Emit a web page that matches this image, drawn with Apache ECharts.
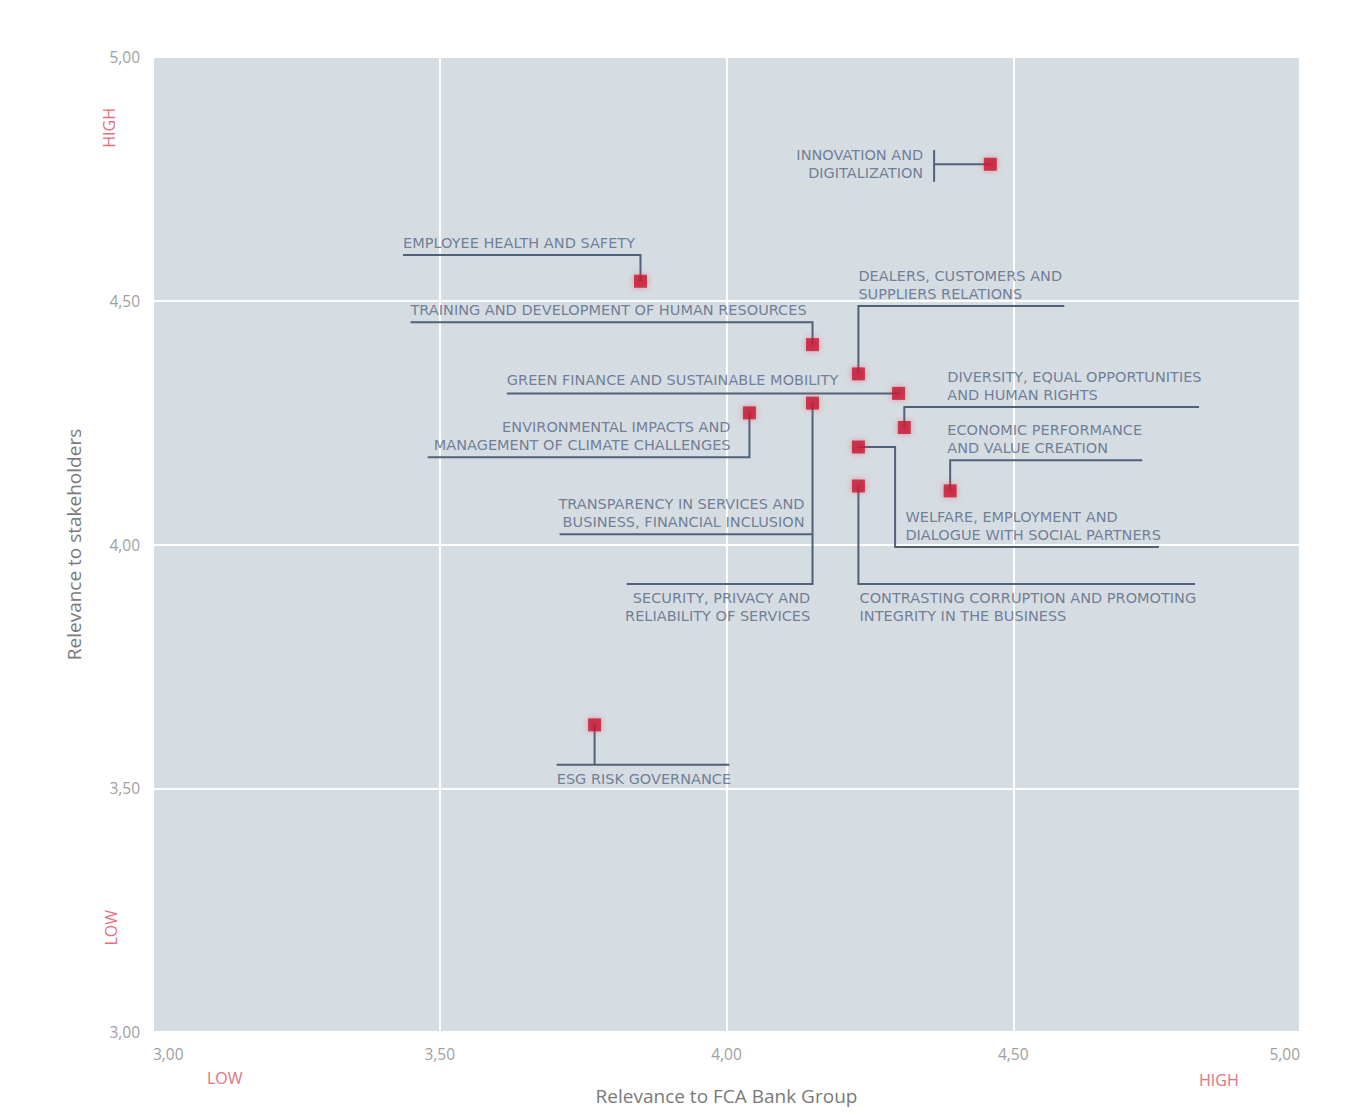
<!DOCTYPE html>
<html><head><meta charset="utf-8">
<script src="https://cdn.jsdelivr.net/npm/echarts@6/dist/echarts.min.js"></script>
<style>html,body{margin:0;background:#fff}#c{width:1355px;height:1117px}</style>
</head><body><div id="c"></div>
<script>
// ---- data ----
const topics = [
  'INNOVATION AND\nDIGITALIZATION',
  'EMPLOYEE HEALTH AND SAFETY',
  'TRAINING AND DEVELOPMENT OF HUMAN RESOURCES',
  'DEALERS, CUSTOMERS AND\nSUPPLIERS RELATIONS',
  'GREEN FINANCE AND SUSTAINABLE MOBILITY',
  'DIVERSITY, EQUAL OPPORTUNITIES\nAND HUMAN RIGHTS',
  'ENVIRONMENTAL IMPACTS AND\nMANAGEMENT OF CLIMATE CHALLENGES',
  'TRANSPARENCY IN SERVICES AND\nBUSINESS, FINANCIAL INCLUSION',
  'SECURITY, PRIVACY AND\nRELIABILITY OF SERVICES',
  'ECONOMIC PERFORMANCE\nAND VALUE CREATION',
  'WELFARE, EMPLOYMENT AND\nDIALOGUE WITH SOCIAL PARTNERS',
  'CONTRASTING CORRUPTION AND PROMOTING\nINTEGRITY IN THE BUSINESS',
  'ESG RISK GOVERNANCE'
];
const relevanceGroup =        [4.46, 3.85, 4.15, 4.23, 4.30, 4.31, 4.04, 4.15, 4.15, 4.39, 4.23, 4.23, 3.77];
const relevanceStakeholders = [4.78, 4.54, 4.41, 4.35, 4.31, 4.24, 4.27, 4.29, 4.29, 4.11, 4.20, 4.12, 3.63];
const xTickLabels = ['3,00', '3,50', '4,00', '4,50', '5,00'];
const yTickLabels = ['3,00', '3,50', '4,00', '4,50', '5,00'];
const xAxisTitle = 'Relevance to FCA Bank Group';
const yAxisTitle = 'Relevance to stakeholders';

// ---- annotation layout (leader waypoints & label anchors, data units) ----
const leaderPaths = [
  [[4.362, 4.78]],
  [[3.85, 4.594], [3.436, 4.594]],
  [[4.15, 4.456], [3.449, 4.456]],
  [[4.23, 4.489], [4.589, 4.489]],
  [[3.617, 4.31]],
  [[4.31, 4.282], [4.824, 4.282]],
  [[4.04, 4.179], [3.479, 4.179]],
  [[4.15, 3.919], [3.826, 3.919]],
  null,
  [[4.39, 4.173], [4.725, 4.173]],
  [[4.294, 4.20], [4.294, 3.995], [4.754, 3.995]],
  [[4.23, 3.919], [4.817, 3.919]],
  [[3.77, 3.548]]
];
const extraSegments = [
  [[4.362, 4.809], [4.362, 4.744]],
  [[3.709, 4.021], [4.15, 4.021]],
  [[3.704, 3.548], [4.005, 3.548]]
];
const labelAnchors = [
  [4.350, 4.78, 'right', 'middle', -4, 0],
  [3.436, 4.594, 'left', 'bottom', 0, -3],
  [3.449, 4.456, 'left', 'bottom', 0, -3],
  [4.23, 4.489, 'left', 'bottom', 0, -3],
  [3.617, 4.31, 'left', 'bottom', 0, -4],
  [4.385, 4.282, 'left', 'bottom', 0, -3],
  [4.007, 4.179, 'right', 'bottom', 0, -3],
  [4.136, 4.021, 'right', 'bottom', 0, -3],
  [4.146, 3.919, 'right', 'top', 0, 5],
  [4.385, 4.173, 'left', 'bottom', 0, -3],
  [4.312, 3.995, 'left', 'bottom', 0, -3],
  [4.232, 3.919, 'left', 'top', 0, 5],
  [3.704, 3.548, 'left', 'top', 0, 5]
];

const points = topics.map((t, i) => [relevanceGroup[i], relevanceStakeholders[i]]);
const lineData = [];
leaderPaths.forEach((p, i) => { if (p) lineData.push({ coords: [points[i]].concat(p) }); });
extraSegments.forEach(s => lineData.push({ coords: s }));
const labelData = topics.map((t, i) => {
  const a = labelAnchors[i];
  return { name: t, value: [a[0], a[1]],
    label: { align: a[2], verticalAlign: a[3], offset: [a[4], a[5]] } };
});
const uniquePts = points.filter((p, i) => i !== 8);

const tickIdx = v => Math.round((v - 3) / 0.5);
const chart = echarts.init(document.getElementById('c'), null, { renderer: 'svg' });
const labelColor = '#566582';
const red = '#e5707e';
chart.setOption({
  animation: false,
  grid: { left: 153, right: 55, top: 57, bottom: 85, show: true, backgroundColor: '#d5dde3', borderWidth: 0 },
  xAxis: {
    type: 'value', min: 3, max: 5, interval: 0.5,
    axisLine: { show: false }, axisTick: { show: false },
    splitLine: { lineStyle: { color: '#ffffff', width: 2 } },
    axisLabel: { formatter: v => xTickLabels[tickIdx(v)], color: '#a0a0a0', fontSize: 15.5, margin: 14,
      fontFamily: 'Open Sans', alignMinLabel: 'left', alignMaxLabel: 'right' },
    name: xAxisTitle, nameLocation: 'middle', nameGap: 54,
    nameTextStyle: { color: '#7a7a7a', fontSize: 19, fontFamily: 'Open Sans' }
  },
  yAxis: {
    type: 'value', min: 3, max: 5, interval: 0.5,
    axisLine: { show: false }, axisTick: { show: false },
    splitLine: { lineStyle: { color: '#ffffff', width: 2 } },
    axisLabel: { formatter: v => yTickLabels[tickIdx(v)], color: '#a0a0a0', fontSize: 15.5, margin: 13,
      fontFamily: 'Open Sans' },
    name: yAxisTitle, nameLocation: 'middle', nameGap: 70,
    nameTextStyle: { color: '#7a7a7a', fontSize: 19, fontFamily: 'Open Sans' }
  },
  graphic: [
    { type: 'text', left: 101, top: 108, rotation: Math.PI / 2,
      style: { text: 'HIGH', fill: red, fontSize: 16, fontFamily: 'Open Sans' } },
    { type: 'text', left: 103, top: 910, rotation: Math.PI / 2,
      style: { text: 'LOW', fill: red, fontSize: 16, fontFamily: 'Open Sans' } },
    { type: 'text', left: 207, top: 1070,
      style: { text: 'LOW', fill: red, fontSize: 16, fontFamily: 'Open Sans' } },
    { type: 'text', left: 1199, top: 1072,
      style: { text: 'HIGH', fill: red, fontSize: 16, fontFamily: 'Open Sans' } }
  ],
  series: [
    { type: 'lines', coordinateSystem: 'cartesian2d', polyline: true, silent: true, z: 2,
      lineStyle: { color: '#52617a', width: 2, opacity: 1 }, data: lineData },
    { type: 'scatter', symbolSize: 0, silent: true, z: 3, data: labelData,
      label: { show: true, position: [0, 0], formatter: p => p.name, color: labelColor,
        fontSize: 14.5, lineHeight: 18, fontFamily: 'DejaVu Sans' } },
    { type: 'scatter', symbol: 'rect', symbolSize: 13, z: 4, data: uniquePts,
      itemStyle: { color: '#c4122f', shadowBlur: 6, shadowColor: 'rgba(230,60,80,0.6)' } }
  ]
});
</script></body></html>
